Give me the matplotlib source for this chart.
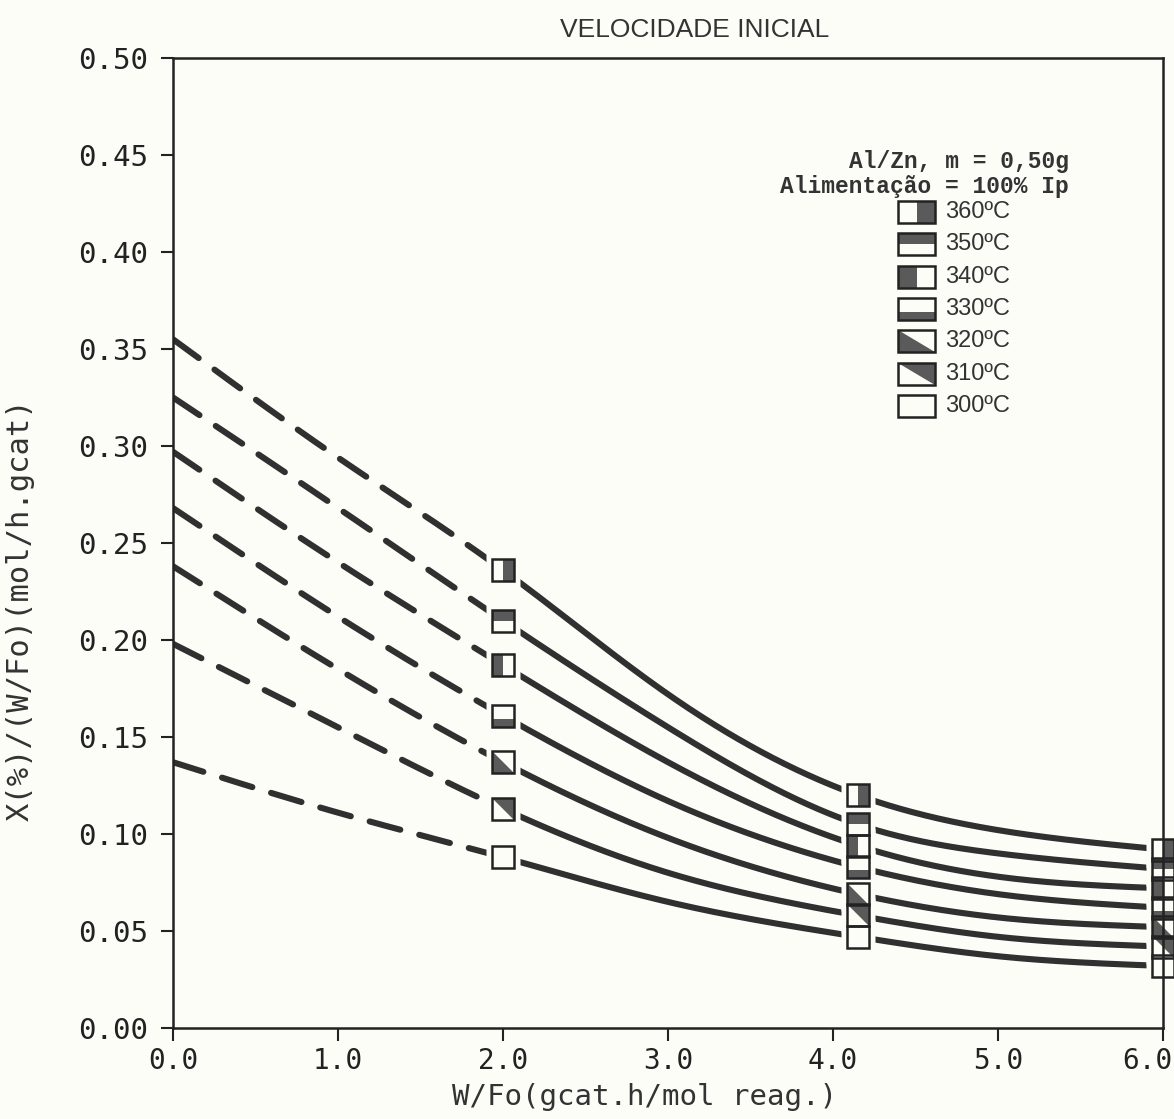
import numpy as np
import matplotlib
matplotlib.use("Agg")
import matplotlib.pyplot as plt
from matplotlib.path import Path
from matplotlib.patches import Polygon, Rectangle
from matplotlib.transforms import ScaledTranslation

# Abscissa where the curve values are given (W/Fo, gcat.h/mol)
x_pts = [0.0, 1.0, 2.0, 3.0, 4.15, 5.0, 6.0]
# Experimental points (marked) are at these W/Fo values
x_marks = [2.0, 4.15, 6.0]

temps = ["360ºC", "350ºC", "340ºC", "330ºC", "320ºC", "310ºC", "300ºC"]

v360 = [0.355, 0.294, 0.236, 0.172, 0.120, 0.102, 0.092]
v350 = [0.325, 0.268, 0.210, 0.155, 0.105, 0.090, 0.082]
v340 = [0.297, 0.240, 0.187, 0.137, 0.094, 0.078, 0.072]
v330 = [0.268, 0.212, 0.161, 0.117, 0.083, 0.069, 0.062]
v320 = [0.238, 0.185, 0.137, 0.098, 0.069, 0.057, 0.052]
v310 = [0.198, 0.155, 0.113, 0.080, 0.058, 0.047, 0.042]
v300 = [0.137, 0.111, 0.088, 0.065, 0.047, 0.037, 0.032]
series = [v360, v350, v340, v330, v320, v310, v300]

x_ticks = [0.0, 1.0, 2.0, 3.0, 4.0, 5.0, 6.0]
y_ticks = [0.00, 0.05, 0.10, 0.15, 0.20, 0.25, 0.30, 0.35, 0.40, 0.45, 0.50]

# Filled part of each symbol, in unit-square coordinates
fills = [
    [(0.5, 0), (1, 0), (1, 1), (0.5, 1)],      # right half
    [(0, 0.5), (1, 0.5), (1, 1), (0, 1)],      # top half
    [(0, 0), (0.5, 0), (0.5, 1), (0, 1)],      # left half
    [(0, 0), (1, 0), (1, 0.35), (0, 0.35)],    # bottom strip
    [(0, 1), (0, 0), (1, 0)],                  # lower-left triangle
    [(0, 1), (1, 1), (1, 0)],                  # upper-right triangle
    None,                                      # empty
]


def natural_spline(xk, yk, xs):
    """Natural cubic spline through (xk, yk), evaluated at xs."""
    xk = np.asarray(xk, float)
    yk = np.asarray(yk, float)
    n = len(xk)
    h = np.diff(xk)
    A = np.zeros((n, n))
    r = np.zeros(n)
    A[0, 0] = A[-1, -1] = 1.0
    for i in range(1, n - 1):
        A[i, i - 1] = h[i - 1]
        A[i, i] = 2 * (h[i - 1] + h[i])
        A[i, i + 1] = h[i]
        r[i] = 6 * ((yk[i + 1] - yk[i]) / h[i] - (yk[i] - yk[i - 1]) / h[i - 1])
    M = np.linalg.solve(A, r)
    xs = np.asarray(xs, float)
    k = np.clip(np.searchsorted(xk, xs) - 1, 0, n - 2)
    a = xk[k + 1] - xs
    b = xs - xk[k]
    hk = h[k]
    return (M[k] * a**3 / (6 * hk) + M[k + 1] * b**3 / (6 * hk)
            + (yk[k] / hk - M[k] * hk / 6) * a
            + (yk[k + 1] / hk - M[k + 1] * hk / 6) * b)


paper = "#fdfdf8"
ink = "#303030"
grey = "#5a5a5a"
mono = "DejaVu Sans Mono"

fig = plt.figure(figsize=(11.74, 11.19), dpi=100, facecolor=paper)
ax = fig.add_axes([0.1474, 0.0813, 0.8433, 0.8669])
ax.set_facecolor(paper)

lw = 4.4
for vals, fill in zip(series, fills):
    xd = np.linspace(0.0, 2.0, 200)
    xs = np.linspace(2.0, 6.0, 400)
    ax.plot(xd, natural_spline(x_pts, vals, xd), color=ink, lw=lw,
            linestyle=(0, (5.2, 3.2)), dash_capstyle="round", zorder=2)
    ax.plot(xs, natural_spline(x_pts, vals, xs), color=ink, lw=lw,
            solid_capstyle="round", zorder=2)

    ym = [vals[x_pts.index(xm)] for xm in x_marks]
    # paper-coloured surround that breaks the curve around each symbol
    ax.plot(x_marks, ym, linestyle="none", marker="s", markersize=25,
            markerfacecolor=paper, markeredgecolor="none", zorder=3,
            clip_on=False)
    if fill is not None:
        verts = [(2 * u - 1, 2 * v - 1) for u, v in fill]
        verts.append(verts[0])
        ax.plot(x_marks, ym, linestyle="none",
                marker=Path(verts, closed=True), markersize=15.5,
                markerfacecolor=grey, markeredgewidth=0, zorder=4,
                clip_on=False)
    ax.plot(x_marks, ym, linestyle="none", marker="s", markersize=15.5,
            markerfacecolor="none", markeredgecolor="#222222",
            markeredgewidth=1.8, zorder=5, clip_on=False)

ax.set_xlim(0, 6)
ax.set_ylim(0, 0.5)
ax.set_xticks(x_ticks)
ax.set_yticks(y_ticks)
ax.set_xticklabels([f"{v:.1f}" for v in x_ticks], fontfamily=mono, fontsize=20)
ax.set_yticklabels([f"{v:.2f}" for v in y_ticks], fontfamily=mono, fontsize=21)
ax.tick_params(axis="y", direction="out", length=9, width=1.5, pad=9,
               colors="#222222")
ax.tick_params(axis="x", direction="out", length=9, width=1.5, pad=5,
               colors="#222222")
# keep the last abscissa label inside the sheet
last = ax.get_xticklabels()[-1]
last.set_transform(last.get_transform()
                   + ScaledTranslation(-16 / 100, 0, fig.dpi_scale_trans))
for s in ax.spines.values():
    s.set_linewidth(1.8)
    s.set_color("#222222")
    s.set_zorder(10)

# Legend block
ax.text(0.905, 0.893, "Al/Zn, m = 0,50g", transform=ax.transAxes,
        ha="right", va="center", fontfamily="Liberation Mono",
        fontsize=16.5, fontweight="bold", color="#333333")
ax.text(0.905, 0.868, "Alimentação = 100% Ip", transform=ax.transAxes,
        ha="right", va="center", fontfamily="Liberation Mono",
        fontsize=16.5, fontweight="bold", color="#333333")

x0, w, h = 0.7323, 0.0374, 0.0227
y_top, dy = 0.8412, 0.0333
for i, (lab, fill) in enumerate(zip(temps, fills)):
    yc = y_top - i * dy
    y0 = yc - h / 2
    if fill is not None:
        pts = [(x0 + u * w, y0 + v * h) for u, v in fill]
        ax.add_patch(Polygon(pts, closed=True, transform=ax.transAxes,
                             facecolor=grey, edgecolor="none", zorder=4))
    ax.add_patch(Rectangle((x0, y0), w, h, transform=ax.transAxes,
                           facecolor="none", edgecolor="#222222",
                           linewidth=1.8, zorder=5))
    ax.text(0.780, yc, lab, transform=ax.transAxes, ha="left", va="center",
            fontfamily="Liberation Sans", fontsize=17, color="#333333")

fig.text(0.592, 0.973, "VELOCIDADE INICIAL", ha="center", va="center",
         fontfamily="Liberation Sans", fontsize=19, color="#333333")
fig.text(0.549, 0.0197, "W/Fo(gcat.h/mol reag.)", ha="center", va="center",
         fontfamily=mono, fontsize=21, color="#333333")
fig.text(0.017, 0.455, "X(%)/(W/Fo)(mol/h.gcat)", ha="center", va="center",
         rotation=90, fontfamily=mono, fontsize=22, color="#333333")

fig.savefig("out.png", dpi=100, facecolor=paper)
